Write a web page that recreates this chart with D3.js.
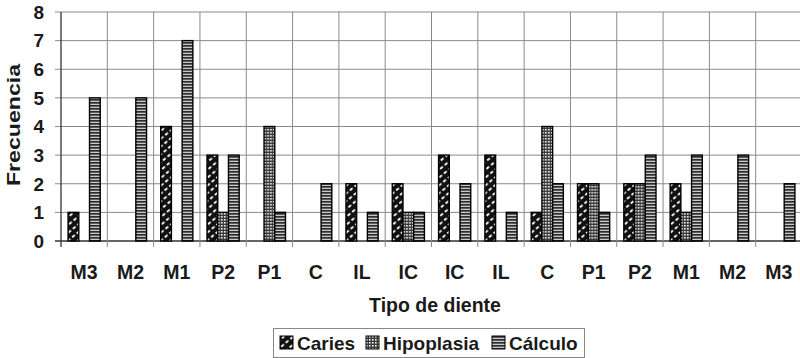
<!DOCTYPE html>
<html>
<head>
<meta charset="utf-8">
<script src="https://cdn.jsdelivr.net/npm/d3@7"></script>
<style>
  body { margin: 0; background: #fff; }
  svg text { font-family: Arial, "Liberation Sans", Helvetica, sans-serif; font-weight: 700; }
</style>
</head>
<body>
<svg id="chart" width="800" height="358"></svg>
<script>
const teeth = ["M3", "M2", "M1", "P2", "P1", "C", "IL", "IC", "IC", "IL", "C", "P1", "P2", "M1", "M2", "M3"];
const caries = [1, 0, 4, 3, 0, 0, 2, 2, 3, 3, 1, 2, 2, 2, 0, 0];
const hipoplasia = [0, 0, 0, 1, 4, 0, 0, 1, 0, 0, 4, 2, 2, 1, 0, 0];
const calculo = [5, 5, 7, 3, 1, 2, 1, 1, 2, 1, 2, 1, 3, 3, 3, 2];
const seriesNames = ["Caries", "Hipoplasia", "Cálculo"];
const yTicks = [0, 1, 2, 3, 4, 5, 6, 7, 8];

const textColor = "#1a1a1a";
const gridColor = "#8a8a8a";

const margin = { left: 61, top: 12, right: -2, bottom: 117 };
const width = 800, height = 358;

const svg = d3.select("#chart");
const defs = svg.append("defs");

// bar fill patterns
let p = defs.append("pattern").attr("id", "pat-caries")
    .attr("patternUnits", "userSpaceOnUse").attr("width", 6).attr("height", 6)
    .attr("patternTransform", "rotate(-40)");
p.append("rect").attr("width", 6).attr("height", 6).attr("fill", "#111");
p.append("rect").attr("x", 0).attr("y", 2).attr("width", 3.5).attr("height", 1.8).attr("fill", "#fff");

p = defs.append("pattern").attr("id", "pat-hipo")
    .attr("patternUnits", "userSpaceOnUse").attr("width", 3).attr("height", 3);
p.append("rect").attr("width", 3).attr("height", 3).attr("fill", "#3a3a3a");
p.append("rect").attr("width", 1.6).attr("height", 1.6).attr("fill", "#f2f2f2");

p = defs.append("pattern").attr("id", "pat-calc")
    .attr("patternUnits", "userSpaceOnUse").attr("width", 4).attr("height", 3);
p.append("rect").attr("width", 4).attr("height", 3).attr("fill", "#c8c8c8");
p.append("rect").attr("width", 4).attr("height", 1.7).attr("fill", "#2e2e2e");

const fills = ["url(#pat-caries)", "url(#pat-hipo)", "url(#pat-calc)"];

const x = d3.scaleBand()
    .domain(d3.range(teeth.length))
    .range([margin.left, width - margin.right])
    .paddingInner(0).paddingOuter(0);

const y = d3.scaleLinear().domain([0, 8]).range([height - margin.bottom, margin.top]);

const x1 = d3.scaleBand().domain(d3.range(3))
    .range([0, x.bandwidth()]).paddingInner(0).paddingOuter(0.66);

// grid
const g = svg.append("g");
g.selectAll("line.hgrid").data(yTicks).join("line")
    .attr("class", "hgrid")
    .attr("x1", margin.left - 6).attr("x2", width)
    .attr("y1", d => y(d)).attr("y2", d => y(d))
    .attr("stroke", d => d === 0 ? "#333" : gridColor)
    .attr("stroke-width", d => d === 0 ? 1.3 : 1);

const bounds = d3.range(teeth.length + 1);
g.selectAll("line.vgrid").data(bounds).join("line")
    .attr("class", "vgrid")
    .attr("x1", i => i === teeth.length ? width - margin.right : x(i))
    .attr("x2", i => i === teeth.length ? width - margin.right : x(i))
    .attr("y1", y(8)).attr("y2", y(0) + 6)
    .attr("stroke", (i) => i === 0 ? "#333" : gridColor)
    .attr("stroke-width", i => i === 0 ? 1.3 : 1);

// bars
const data = [caries, hipoplasia, calculo];
const groups = svg.append("g").selectAll("g").data(teeth).join("g")
    .attr("transform", (d, i) => `translate(${x(i)},0)`);

groups.selectAll("rect")
    .data((d, i) => data.map((s, k) => ({ k, v: s[i] })).filter(b => b.v > 0))
    .join("rect")
    .attr("x", b => x1(b.k))
    .attr("width", x1.bandwidth())
    .attr("y", b => y(b.v))
    .attr("height", b => y(0) - y(b.v))
    .attr("fill", b => fills[b.k])
    .attr("stroke", "#000")
    .attr("stroke-width", 1.4);

// y axis labels
svg.append("g").selectAll("text").data(yTicks).join("text")
    .attr("x", 44)
    .attr("y", d => y(d))
    .attr("dy", "0.36em")
    .attr("text-anchor", "end")
    .attr("font-size", 19)
    .attr("fill", textColor)
    .text(d => d);

svg.append("text")
    .attr("transform", `translate(20,125) rotate(-90)`)
    .attr("text-anchor", "middle")
    .attr("font-size", 18.5)
    .attr("textLength", 122)
    .attr("lengthAdjust", "spacingAndGlyphs")
    .attr("fill", textColor)
    .text("Frecuencia");

// x axis labels
svg.append("g").selectAll("text").data(teeth).join("text")
    .attr("x", (d, i) => x(i) + x.bandwidth() / 2)
    .attr("y", 279)
    .attr("text-anchor", "middle")
    .attr("font-size", 19.5)
    .attr("fill", textColor)
    .text(d => d);

svg.append("text")
    .attr("x", 435).attr("y", 312)
    .attr("text-anchor", "middle")
    .attr("font-size", 19.5)
    .attr("fill", textColor)
    .text("Tipo de diente");

// legend
const legend = svg.append("g");
legend.append("rect")
    .attr("x", 273.5).attr("y", 328.5).attr("width", 311).attr("height", 29)
    .attr("fill", "#fff").attr("stroke", "#888");

const legendX = [280, 366, 492];
const item = legend.selectAll("g").data(seriesNames).join("g")
    .attr("transform", (d, i) => `translate(${legendX[i]},336)`);
item.append("rect").attr("width", 13).attr("height", 13)
    .attr("fill", (d, i) => fills[i]).attr("stroke", "#000").attr("stroke-width", 1);
item.append("text").attr("x", 17).attr("y", 13.5)
    .attr("font-size", 19).attr("fill", textColor)
    .text(d => d);
</script>
</body>
</html>
